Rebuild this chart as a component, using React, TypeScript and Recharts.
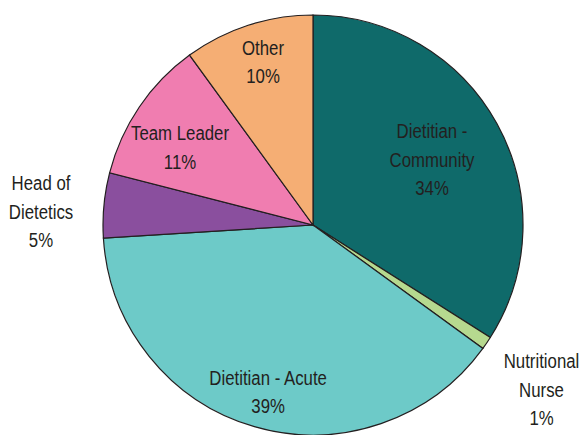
import { PieChart, Pie, Cell } from "recharts";

const categories = [
  "Dietitian - Community",
  "Nutritional Nurse",
  "Dietitian - Acute",
  "Head of Dietetics",
  "Team Leader",
  "Other",
];
const shares = [34, 1, 39, 5, 11, 10];
const labelLines = [
  ["Dietitian -", "Community"],
  ["Nutritional", "Nurse"],
  ["Dietitian - Acute"],
  ["Head of", "Dietetics"],
  ["Team Leader"],
  ["Other"],
];

const COLORS = ["#0f6a6a", "#b6d98f", "#6dcac8", "#8a4f9e", "#f07db0", "#f5ae74"];
// label placement: distance as a fraction of the radius, and a small angle nudge (deg)
const LABEL_RADIUS = [0.648, 1.34, 0.82, 1.297, 0.734, 0.814];
const LABEL_TURN = [0.2, -1.5, 1.1, 2.45, 3.8, -1];
const FONT = "'Liberation Sans', Arial, sans-serif";
const LINE_H = 28.5;
const SQUEEZE = 0.8; // no condensed font installed, so narrow it by hand

const data = categories.map((name, i) => ({ name, value: shares[i] }));

const RAD = Math.PI / 180;

function renderLabel(props: any) {
  const { cx, cy, midAngle, outerRadius, index, value } = props;
  const r = outerRadius * LABEL_RADIUS[index];
  const a = midAngle + LABEL_TURN[index];
  const x = cx + r * Math.cos(-a * RAD);
  const y = cy + r * Math.sin(-a * RAD);
  const lines = [...labelLines[index], `${value}%`];
  const top = y - ((lines.length - 1) * LINE_H) / 2;
  return (
    <text
      x={x}
      y={top}
      textAnchor="middle"
      dominantBaseline="central"
      fill="#231f20"
      fontFamily={FONT}
      fontSize={21}
      transform={`translate(${x} 0) scale(${SQUEEZE} 1) translate(${-x} 0)`}
    >
      {lines.map((l, i) => (
        <tspan key={i} x={x} y={top + i * LINE_H}>
          {l}
        </tspan>
      ))}
    </text>
  );
}

export default function App() {
  return (
    <div style={{ position: "absolute", left: 0, top: 0, width: 581, height: 435, background: "#fff" }}>
      <PieChart width={581} height={435} margin={{ top: 0, right: 0, bottom: 0, left: 0 }}>
        <Pie
          data={data}
          dataKey="value"
          nameKey="name"
          cx={313}
          cy={225}
          outerRadius={210}
          startAngle={90}
          endAngle={-270}
          stroke="#231f20"
          strokeWidth={1.2}
          label={renderLabel}
          labelLine={false}
          isAnimationActive={false}
        >
          {data.map((_, i) => (
            <Cell key={i} fill={COLORS[i]} />
          ))}
        </Pie>
      </PieChart>
    </div>
  );
}
